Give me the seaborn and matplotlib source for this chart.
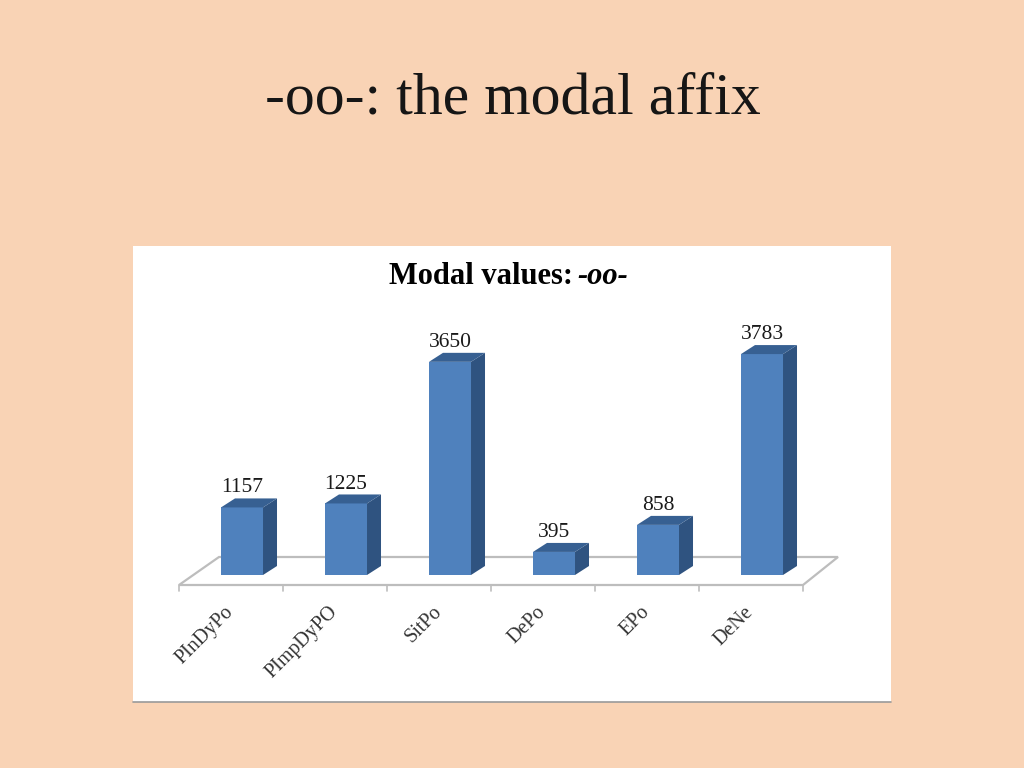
import matplotlib
matplotlib.use("Agg")
import matplotlib.pyplot as plt
import matplotlib.transforms as mtrans
from matplotlib.patches import Polygon, Rectangle
import seaborn as sns
import pandas as pd

# Data
categories = ['PInDyPo', 'PImpDyPO', 'SitPo', 'DePo', 'EPo', 'DeNe']
values = [1157, 1225, 3650, 395, 858, 3783]

peach = '#F9D3B5'
front = '#4F81BD'
side = '#2F5380'
top = '#376092'
floor = '#BDBDBD'

df = pd.DataFrame({'Category': categories, 'Value': values})

sns.set_theme(style="white")
plt.rcParams['font.family'] = ['Liberation Serif', 'DejaVu Serif']

W, H = 1024, 768
fig = plt.figure(figsize=(10.24, 7.68), dpi=100, facecolor=peach)

# slide title and white picture panel, in pixel coordinates
bg = fig.add_axes([0, 0, 1, 1])
bg.set_xlim(0, W)
bg.set_ylim(H, 0)
bg.axis('off')
bg.add_patch(Rectangle((133, 246), 758, 456, facecolor='white', edgecolor='none'))
bg.plot([133, 891], [702, 702], color='#9A9A9A', lw=1.2)
bg.text(513, 100, '-oo-: the modal affix', ha='center', va='center', fontsize=43, color='#161616')
bg.text(573, 276, 'Modal values:', ha='right', va='center', fontsize=22, fontweight='bold', color='black')
bg.text(577, 276, '-oo-', ha='left', va='center', fontsize=22, fontweight='bold', style='italic', color='black')

# bar axes: one category slot is 104 px, baseline at y=575
ax = fig.add_axes([190 / W, (H - 575) / H, 624 / W, 233.6 / H], facecolor='none')
sns.barplot(data=df, x='Category', y='Value', color=front, width=0.404, saturation=1,
            linewidth=0, ax=ax, zorder=3)
ax.set_xlim(-0.5, 5.5)
ax.set_ylim(0, 4000)
ax.set_xlabel('')
ax.set_ylabel('')
ax.set_yticks([])
sns.despine(ax=ax, left=True, bottom=True)

xpx = 1 / 104
ypx = 4000 / 233.6

# floor of the 3D plot
x0, x1 = -0.5 - 11 * xpx, 5.5 - 11 * xpx
y0 = -10 * ypx
back = [(x0 + 40 * xpx, y0 + 28 * ypx), (x1 + 35 * xpx, y0 + 28 * ypx)]
ax.add_patch(Polygon([(x0, y0), (x1, y0), back[1], back[0]], closed=True, facecolor='white',
                     edgecolor=floor, lw=1.6, clip_on=False, zorder=1))
for i in range(len(categories) + 1):
    ax.plot([x0 + i, x0 + i], [y0, y0 - 6 * ypx], color=floor, lw=1.2, clip_on=False, zorder=1)

# depth faces of each bar
dx, dy = 14 * xpx, 9 * ypx
for bar, val in zip(ax.patches[:len(values)], values):
    left = bar.get_x()
    right = left + bar.get_width()
    ax.add_patch(Polygon([(right, 0), (right + dx, dy), (right + dx, val + dy), (right, val)],
                         closed=True, facecolor=side, edgecolor='none', clip_on=False, zorder=3))
    ax.add_patch(Polygon([(left, val), (right, val), (right + dx, val + dy), (left + dx, val + dy)],
                         closed=True, facecolor=top, edgecolor='none', clip_on=False, zorder=3))
    ax.annotate(f'{val}', (left + bar.get_width() / 2, val), xytext=(0, 14), textcoords='offset points',
                ha='center', va='center', fontsize=15.5, color='#1A1A1A', zorder=4)

# rotated category labels
ax.set_xticks(range(len(categories)))
ax.set_xticklabels(categories, rotation=45, ha='right', rotation_mode='anchor', fontsize=14.5, color='#333333')
ax.tick_params(axis='x', length=0, pad=20)
shift = mtrans.ScaledTranslation(-18, 0, mtrans.IdentityTransform())
for label in ax.get_xticklabels():
    label.set_transform(label.get_transform() + shift)

plt.savefig('out.png', dpi=100, facecolor=peach)
